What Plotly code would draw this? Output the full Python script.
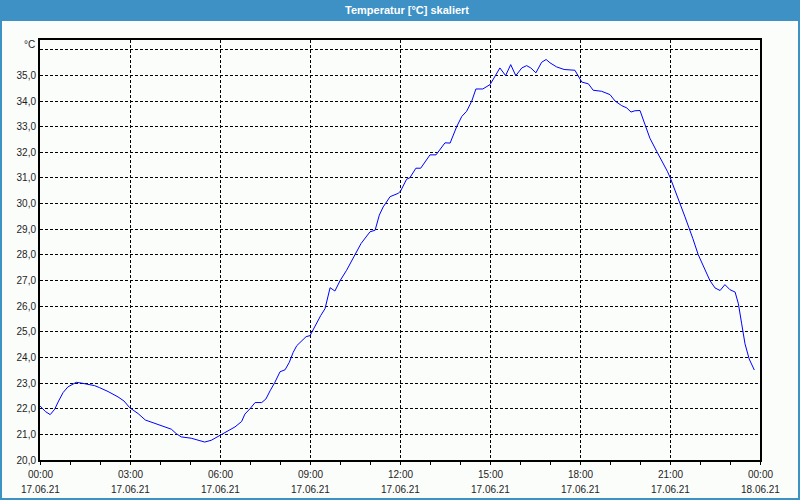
import pandas as pd
import plotly.graph_objects as go

# ---- data ----
hours = [0.00, 0.18, 0.34, 0.49, 0.62, 0.77, 0.93, 1.10, 1.21, 1.38, 1.60, 1.82, 1.99,
         2.27, 2.60, 2.80, 2.99, 3.27, 3.51, 3.77, 4.10, 4.38, 4.54, 4.71, 5.04, 5.27,
         5.49, 5.71, 6.02, 6.32, 6.50, 6.72, 6.83, 7.00, 7.17, 7.39, 7.53, 7.67, 7.83,
         8.00, 8.17, 8.31, 8.44, 8.56, 8.72, 8.87, 9.00, 9.09, 9.22, 9.36, 9.50, 9.67,
         9.83, 10.00, 10.22, 10.50, 10.70, 11.00, 11.17, 11.31, 11.44, 11.67, 11.94,
         12.02, 12.22, 12.33, 12.53, 12.69, 13.00, 13.20, 13.50, 13.67, 13.89, 14.06,
         14.22, 14.39, 14.53, 14.76, 15.00, 15.17, 15.33, 15.52, 15.69, 15.86, 16.06,
         16.22, 16.36, 16.53, 16.72, 16.87, 17.00, 17.22, 17.47, 17.83, 17.94, 18.06,
         18.28, 18.44, 18.72, 19.00, 19.17, 19.39, 19.56, 19.70, 19.83, 20.00, 20.17,
         20.33, 20.56, 20.78, 20.92, 21.01, 21.17, 21.33, 21.50, 21.67, 21.76, 21.94,
         22.17, 22.33, 22.50, 22.67, 22.83, 23.00, 23.17, 23.28, 23.39, 23.50, 23.64,
         23.81]
temps = [22.11, 21.89, 21.77, 21.98, 22.30, 22.63, 22.85, 22.98, 23.03, 23.00, 22.96, 22.90, 22.82,
         22.67, 22.46, 22.30, 22.04, 21.81, 21.56, 21.45, 21.30, 21.20, 21.03, 20.90, 20.85, 20.77,
         20.70, 20.77, 20.98, 21.16, 21.29, 21.50, 21.79, 22.00, 22.24, 22.24, 22.38, 22.70, 23.03,
         23.44, 23.52, 23.81, 24.20, 24.46, 24.66, 24.81, 24.85, 25.05, 25.37, 25.64, 25.90, 26.72,
         26.59, 26.99, 27.40, 27.98, 28.44, 28.90, 28.96, 29.55, 29.87, 30.27, 30.40,
         30.49, 30.95, 31.01, 31.38, 31.38, 31.90, 31.90, 32.37, 32.36, 33.00, 33.40,
         33.60, 33.99, 34.47, 34.47, 34.64, 34.97, 35.29, 34.99, 35.42, 34.99, 35.29,
         35.38, 35.29, 35.10, 35.51, 35.62, 35.49, 35.33, 35.23, 35.20, 34.97, 34.74,
         34.67, 34.42, 34.38, 34.25, 34.00, 33.82, 33.73, 33.57, 33.62, 33.63, 33.07,
         32.55, 32.03, 31.57, 31.24, 31.00, 30.53, 30.01, 29.48, 28.96, 28.64, 28.01,
         27.40, 27.00, 26.71, 26.61, 26.84, 26.64, 26.55, 26.09, 25.31, 24.53, 23.94,
         23.51]

start_date = "2021-06-17"
tick_hours = [0, 3, 6, 9, 12, 15, 18, 21, 24]
tick_times = ["00:00", "03:00", "06:00", "09:00", "12:00", "15:00", "18:00", "21:00", "00:00"]
tick_dates = ["17.06.21"] * 8 + ["18.06.21"]
y_ticks = list(range(20, 37))
title_text = "Temperatur [°C] skaliert"
unit_text = "°C"

base = pd.Timestamp(start_date)
x = base + pd.to_timedelta(hours, unit="h")
xt = base + pd.to_timedelta(tick_hours, unit="h")

BG = "#fbfdfb"
BLUE = "#3d91c5"
FONT = "Liberation Sans"
TXT = "#1e1e1e"

fig = go.Figure()
fig.add_trace(go.Scatter(x=x, y=temps, mode="lines",
                         line=dict(color="#0000ff", width=1), hoverinfo="skip"))

fig.update_layout(
    width=800, height=500, autosize=False,
    margin=dict(l=40, r=40, t=40, b=40),
    paper_bgcolor=BG, plot_bgcolor=BG,
    showlegend=False,
    font=dict(family=FONT, size=10, color=TXT),
)

fig.update_xaxes(
    type="date", automargin=False,
    range=[xt[0], xt[-1]],
    tickmode="array", tickvals=xt, ticktext=[""] * len(xt),
    showgrid=True, gridcolor="black", gridwidth=1, griddash="3px,2px",
    showline=True, linecolor="black", linewidth=2, mirror=True,
    ticks="outside", ticklen=3, tickcolor="black", tickwidth=1,
    minor=dict(dtick=3600000, ticks="outside", ticklen=3, tickcolor="black",
               tickwidth=1, showgrid=False),
    zeroline=False, fixedrange=True,
)
fig.update_yaxes(
    automargin=False,
    range=[20, 36.38],
    tickmode="array", tickvals=y_ticks,
    ticktext=[("" if v == y_ticks[-1] else f"{v:.1f}".replace(".", ",")) for v in y_ticks],
    showgrid=True, gridcolor="black", gridwidth=1, griddash="3px,2px",
    showline=True, linecolor="black", linewidth=2, mirror=True,
    ticks="", zeroline=False, fixedrange=True,
    tickfont=dict(family=FONT, size=10, color=TXT),
)

# two-line x labels (time, date) placed below each major tick
for xv, t, d in zip(xt, tick_times, tick_dates):
    fig.add_annotation(text=t, x=xv, xref="x", yref="paper", y=(460-474)/420,
                       xanchor="center", yanchor="middle", showarrow=False,
                       font=dict(family=FONT, size=10, color=TXT))
    fig.add_annotation(text=d, x=xv, xref="x", yref="paper", y=(460-489)/420,
                       xanchor="center", yanchor="middle", showarrow=False,
                       font=dict(family=FONT, size=10, color=TXT))

# title bar
fig.add_shape(type="rect", xref="paper", yref="paper",
              x0=-40/720, x1=760/720, y0=(460-21)/420, y1=460/420,
              fillcolor=BLUE, line=dict(width=0), layer="below")
# window border
fig.add_shape(type="rect", xref="paper", yref="paper",
              x0=-39/720, x1=759/720, y0=(460-499)/420, y1=(460-20)/420,
              fillcolor="rgba(0,0,0,0)", line=dict(color=BLUE, width=2))

fig.add_annotation(text=f"<b>{title_text}</b>", xref="paper", yref="paper",
                   x=(407-40)/720, y=(460-10)/420, xanchor="center", yanchor="middle",
                   showarrow=False, font=dict(family=FONT, size=11, color="white"))
fig.add_annotation(text=unit_text, xref="paper", yref="paper",
                   x=-3/720, y=(460-45)/420, xanchor="right", yanchor="middle",
                   showarrow=False, font=dict(family=FONT, size=10, color=TXT))

fig.write_html("out.html")
